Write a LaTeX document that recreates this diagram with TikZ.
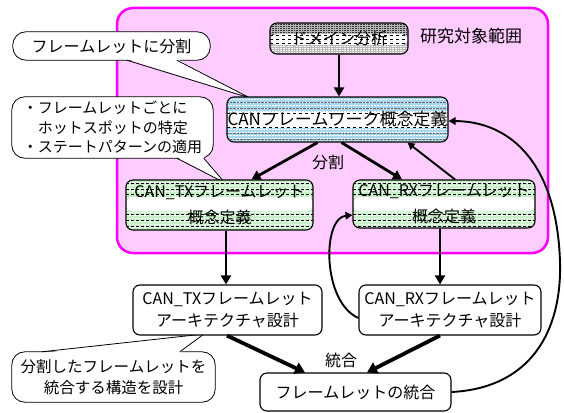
\documentclass[tikz,border=0pt]{standalone}
\usepackage{fontspec}
\setmainfont{Noto Sans CJK JP}
\usetikzlibrary{arrows.meta,calc}
\definecolor{pinkfill}{HTML}{FFCCFF}
\definecolor{pinkline}{HTML}{FF00FF}
\definecolor{canblue}{HTML}{A8D6EE}
\definecolor{cgreen}{HTML}{C8F0C8}
\newcommand\hstripe[2]{\draw[#1] ($(path picture bounding box.north west)+(0,#2)$) -- ($(path picture bounding box.north east)+(0,#2)$);}
\newcommand\hband[3]{\fill[#1] ($(path picture bounding box.north west)+(0,#2)$) rectangle ($(path picture bounding box.north east)+(0,#3)$);}
\tikzset{
  box/.style={draw=black, line width=1.1pt, rounded corners=7pt, align=center, inner sep=0pt,
    font=\fontsize{16}{22}\selectfont},
  domstyle/.style={box, fill=gray!55, path picture={
      \foreach \k in {1,3,...,11} {\hstripe{black!80,densely dotted,line width=0.6pt}{\k}}
      \hband{white}{11}{22}
      \foreach \k in {12.5,16.5,20.5} {\hstripe{black,dashed,line width=0.5pt}{\k}}
      \foreach \k in {23,25,...,33} {\hstripe{white,densely dotted,line width=0.6pt}{\k}}
    }},
  canstyle/.style={box, fill=canblue, path picture={
      \foreach \k in {2,5,...,50} {\hstripe{white,dash pattern=on 2pt off 1pt,line width=0.8pt}{\k}}
      \hband{white}{15}{31}
      \foreach \k in {16,30} {\hstripe{black,dashed,line width=0.4pt}{\k}}
      \foreach \k in {5,11,36,42} {\hstripe{black!60,densely dotted,line width=0.4pt}{\k}}
    }},
  grnstyle/.style={box, fill=cgreen, path picture={
      \foreach \k in {2,5,...,50} {\hstripe{white,dash pattern=on 2pt off 1pt,line width=0.8pt}{\k}}
      \foreach \k in {3.5,9.5,14.5,34.5,40.5,46.5} {\hstripe{black,densely dashed,line width=0.5pt}{\k}}
      \hband{white}{17}{31}
    }},
  plain/.style={box, fill=white},
  callout/.style={align=center, inner sep=0pt, font=\fontsize{16}{21}\selectfont},
  cshape/.style={draw=black, line width=0.8pt, fill=white, rounded corners=13pt},
  arr/.style={line width=2.8pt, -{Triangle[length=9pt,width=10pt]}},
  harr/.style={line width=3.8pt, -{Triangle[length=10pt,width=12pt]}},
  tarr/.style={line width=1.9pt, -{Triangle[length=7pt,width=7.5pt]}},
  lbl/.style={inner sep=0pt, font=\fontsize{16}{18}\selectfont},
}
\begin{document}
\begin{tikzpicture}[x=1pt,y=-1pt]
\useasboundingbox (0,0) rectangle (564,412);
% research scope region
\node[draw=pinkline, line width=2.5pt, fill=pinkfill, rounded corners=16pt,
      minimum width=431pt, minimum height=245pt, inner sep=0pt] (region) at (332.5,130.5) {};
\node[lbl, font=\fontsize{17}{18}\selectfont] (scope) at (471,36) {研究対象範囲};

% callout 1
\node[callout, minimum width=197pt, minimum height=28pt] (c1) at (111.5,46) {};
\draw[cshape] (c1.north west) rectangle (c1.south east);
\coordinate (c1a) at ($(c1.south west)+(114,0)$);
\coordinate (c1b) at ($(c1.south west)+(164,0)$);
\coordinate (c1t) at (250,98);
\fill[white] ($(c1a)+(0,-1.2)$) -- (c1t) -- ($(c1b)+(0,-1.2)$) -- cycle;
\draw[line width=0.8pt] (c1a) -- (c1t) -- (c1b);
\node[callout] at (c1) {フレームレットに分割};

% callout 2
\node[callout, minimum width=201pt, minimum height=61pt] (c2) at (112.5,127.5) {};
\draw[cshape] (c2.north west) rectangle (c2.south east);
\coordinate (c2a) at ($(c2.south west)+(165,0)$);
\coordinate (c2b) at ($(c2.south west)+(192,0)$);
\coordinate (c2t) at (225,183);
\fill[white] ($(c2a)+(0,-1.2)$) -- (c2t) -- ($(c2b)+(0,-1.2)$) -- cycle;
\draw[line width=0.8pt] (c2a) -- (c2t) -- (c2b);
\node[callout, align=left, font=\fontsize{15}{19.5}\selectfont] at (c2) {・フレームレットごとに\\\phantom{・}ホットスポットの特定\\・ステートパターンの適用};

% callout 3
\node[callout, minimum width=203pt, minimum height=50pt] (c3) at (113.5,377) {};
\draw[cshape] (c3.north west) rectangle (c3.south east);
\coordinate (c3a) at ($(c3.north west)+(30,0)$);
\coordinate (c3b) at ($(c3.north west)+(168,0)$);
\coordinate (c3t) at (204,334);
\fill[white] ($(c3a)+(0,1.2)$) -- (c3t) -- ($(c3b)+(0,1.2)$) -- cycle;
\draw[line width=0.8pt] (c3a) -- (c3t) -- (c3b);
\node[callout, font=\fontsize{15.5}{20.5}\selectfont] at (c3) {分割したフレームレットを\\統合する構造を設計};

% process boxes
\node[domstyle, minimum width=138pt, minimum height=31pt] (dom) at (339,38.5) {ドメイン分析};
\node[canstyle, minimum width=221pt, minimum height=45pt, font=\fontsize{17}{20}\selectfont] (can) at (337.5,119.5) {CANフレームワーク概念定義};
\node[grnstyle, minimum width=187pt, minimum height=50pt, font=\fontsize{16}{26}\selectfont] (txc) at (219.5,205) {CAN\_TXフレームレット\\概念定義};
\node[grnstyle, minimum width=182pt, minimum height=48pt, font=\fontsize{16}{26}\selectfont] (rxc) at (444,204) {CAN\_RXフレームレット\\概念定義};
\node[plain, minimum width=189pt, minimum height=50pt] (txd) at (227.5,310) {CAN\_TXフレームレット\\アーキテクチャ設計};
\node[plain, minimum width=182pt, minimum height=50pt] (rxd) at (450,310) {CAN\_RXフレームレット\\アーキテクチャ設計};
\node[plain, minimum width=191pt, minimum height=38pt] (intg) at (355.5,392) {フレームレットの統合};

% labels
\node[lbl] (bunkatsu) at (328,162) {分割};
\node[lbl] (tougou) at (341,360) {統合};

% connectors
\draw[arr] (dom.south) -- (dom.south |- can.north);
\draw[arr] ([xshift=-20pt]can.south) -- ([xshift=32pt]txc.north);
\draw[arr] ([xshift=4pt]can.south) -- ([xshift=-42pt]rxc.north);
\draw[tarr] ([xshift=11pt]rxc.north) -- ([xshift=70pt]can.south);
\draw[arr] ([xshift=6.5pt]txc.south) -- ([xshift=6.5pt]txc.south |- txd.north);
\draw[arr] ([xshift=-4pt]rxc.south) -- ([xshift=-4pt]rxc.south |- rxd.north);
\draw[harr] ([xshift=-0.5pt]txd.south) -- ([xshift=-50.5pt]intg.north);
\draw[harr] ([xshift=-10pt]rxd.south) -- ([xshift=11.5pt]intg.north);
\draw[tarr] ([yshift=-8pt]rxd.west) .. controls (322,302) and (322,218) .. ([yshift=-11pt]rxc.west);
\coordinate (bigmid) at (560,262);
\draw[tarr] (intg.east) .. controls (530,388) and (562,332) .. (bigmid)
   .. controls (557,165) and (512,121.5) .. ([yshift=-1.5pt]can.east);
\end{tikzpicture}
\end{document}
